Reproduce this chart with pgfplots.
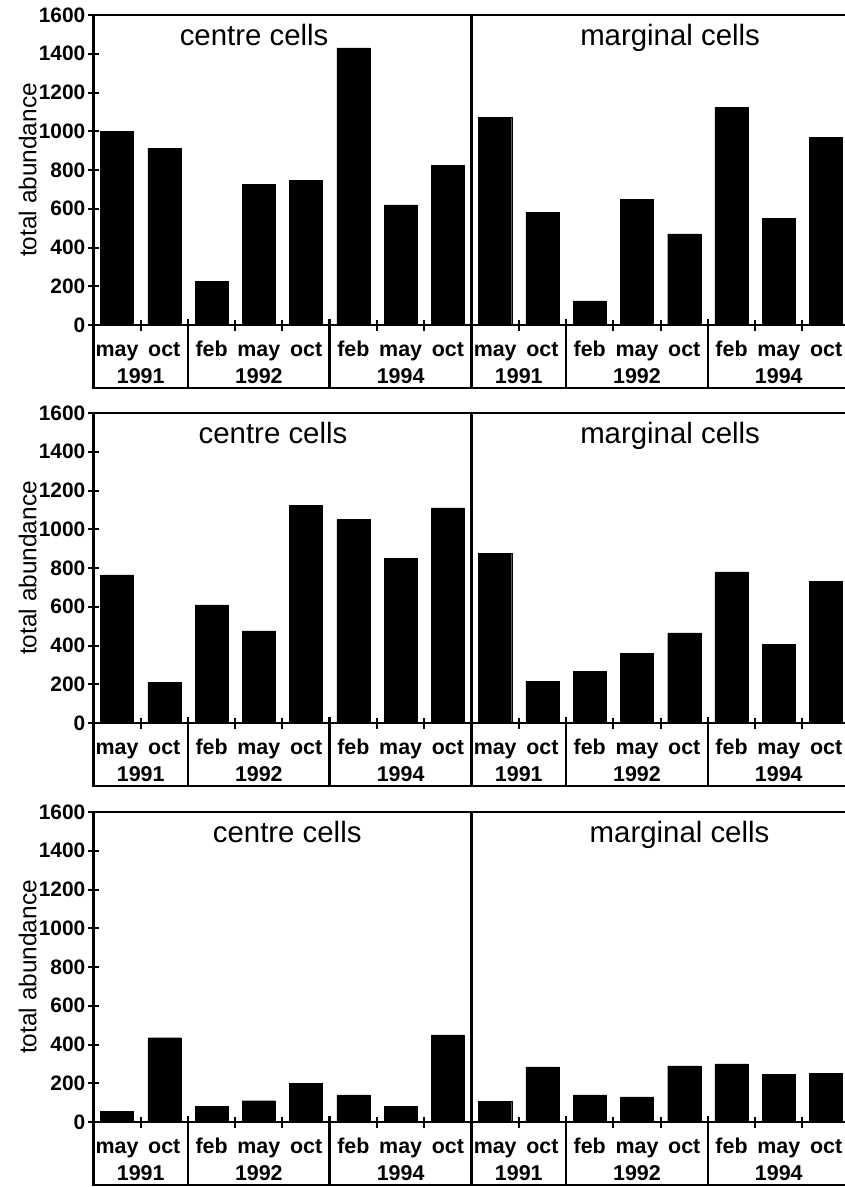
\documentclass[border=0pt]{standalone}
\usepackage{pgfplots}
\pgfplotsset{compat=1.18}
\usepackage{fontspec}
\setmainfont{Liberation Sans}
\newcommand{\tickfont}{\fontsize{21}{21}\selectfont\bfseries}
\newcommand{\catfont}{\fontsize{21.5}{21.5}\selectfont\bfseries}
\newcommand{\titlefont}{\fontsize{29.5}{29.5}\selectfont}
\newcommand{\labfont}{\fontsize{24.5}{24.5}\selectfont}
\pgfplotsset{
  panel/.style={
    scale only axis, width=756.3bp, height=310bp,
    anchor=south west,
    xmin=0, xmax=16, ymin=0, ymax=1600,
    clip=false,
    axis line style={line width=2.8bp},
    every tick/.style={black, line width=2bp},
    tick align=center,
    major tick length=11bp,
    ytick={0,200,...,1600}, ytick pos=left,
    yticklabel style={font=\tickfont, xshift=1bp},
    /pgf/number format/assume math mode=true,
    /pgf/number format/1000 sep={},
    xtick={1,3,4,6,7,9,11,12,14,15}, xticklabels={}, xtick pos=bottom,
  },
  bars/.style={ybar, bar width=0.7, fill=black, draw=black},
}
\newcommand{\panelframe}{%
  \draw[line width=2.8bp] (axis cs:0,0) -- ([yshift=-63bp]axis cs:0,0) -- ([yshift=-63bp]axis cs:16,0);
  \draw[line width=2.8bp] (axis cs:8,1600) -- ([yshift=-63bp]axis cs:8,0);
  \draw[line width=2.8bp] ([yshift=6bp]axis cs:2,0) -- ([yshift=-63bp]axis cs:2,0);
  \draw[line width=2.8bp] ([yshift=6bp]axis cs:5,0) -- ([yshift=-63bp]axis cs:5,0);
  \draw[line width=2.8bp] ([yshift=6bp]axis cs:10,0) -- ([yshift=-63bp]axis cs:10,0);
  \draw[line width=2.8bp] ([yshift=6bp]axis cs:13,0) -- ([yshift=-63bp]axis cs:13,0);
  \node[font=\catfont, anchor=base] at ([yshift=-31bp]axis cs:0.5,0) {may};
  \node[font=\catfont, anchor=base] at ([yshift=-31bp]axis cs:1.5,0) {oct};
  \node[font=\catfont, anchor=base] at ([yshift=-31bp]axis cs:2.5,0) {feb};
  \node[font=\catfont, anchor=base] at ([yshift=-31bp]axis cs:3.5,0) {may};
  \node[font=\catfont, anchor=base] at ([yshift=-31bp]axis cs:4.5,0) {oct};
  \node[font=\catfont, anchor=base] at ([yshift=-31bp]axis cs:5.5,0) {feb};
  \node[font=\catfont, anchor=base] at ([yshift=-31bp]axis cs:6.5,0) {may};
  \node[font=\catfont, anchor=base] at ([yshift=-31bp]axis cs:7.5,0) {oct};
  \node[font=\catfont, anchor=base] at ([yshift=-31bp]axis cs:8.5,0) {may};
  \node[font=\catfont, anchor=base] at ([yshift=-31bp]axis cs:9.5,0) {oct};
  \node[font=\catfont, anchor=base] at ([yshift=-31bp]axis cs:10.5,0) {feb};
  \node[font=\catfont, anchor=base] at ([yshift=-31bp]axis cs:11.5,0) {may};
  \node[font=\catfont, anchor=base] at ([yshift=-31bp]axis cs:12.5,0) {oct};
  \node[font=\catfont, anchor=base] at ([yshift=-31bp]axis cs:13.5,0) {feb};
  \node[font=\catfont, anchor=base] at ([yshift=-31bp]axis cs:14.5,0) {may};
  \node[font=\catfont, anchor=base] at ([yshift=-31bp]axis cs:15.5,0) {oct};
  \node[font=\catfont, anchor=base] at ([yshift=-58bp]axis cs:1,0) {1991};
  \node[font=\catfont, anchor=base] at ([yshift=-58bp]axis cs:3.5,0) {1992};
  \node[font=\catfont, anchor=base] at ([yshift=-58bp]axis cs:6.5,0) {1994};
  \node[font=\catfont, anchor=base] at ([yshift=-58bp]axis cs:9,0) {1991};
  \node[font=\catfont, anchor=base] at ([yshift=-58bp]axis cs:11.5,0) {1992};
  \node[font=\catfont, anchor=base] at ([yshift=-58bp]axis cs:14.5,0) {1994};
  \node[font=\labfont, rotate=90, anchor=base] at ([xshift=-57bp]rel axis cs:0,0.5) {total abundance};
}
\begin{document}
\begin{tikzpicture}
% ---------- panel 1 ----------
\begin{axis}[panel, at={(93.4bp,-325bp)}]
\addplot[bars] coordinates {(0.5,1000) (1.5,910) (2.5,225) (3.5,725) (4.5,745) (5.5,1430) (6.5,620) (7.5,825)};
\addplot[bars] coordinates {(8.5,1070) (9.5,580) (10.5,125) (11.5,650) (12.5,470) (13.5,1125) (14.5,550) (15.5,970)};
\panelframe
\node[font=\titlefont, anchor=base] at ([yshift=-30bp]axis cs:3.4,1600) {centre cells};
\node[font=\titlefont, anchor=base] at ([yshift=-30bp]axis cs:12.2,1600) {marginal cells};
\end{axis}
% ---------- panel 2 ----------
\begin{axis}[panel, at={(93.4bp,-723bp)}]
\addplot[bars] coordinates {(0.5,765) (1.5,210) (2.5,610) (3.5,475) (4.5,1125) (5.5,1050) (6.5,850) (7.5,1110)};
\addplot[bars] coordinates {(8.5,875) (9.5,215) (10.5,265) (11.5,360) (12.5,465) (13.5,780) (14.5,405) (15.5,730)};
\panelframe
\node[font=\titlefont, anchor=base] at ([yshift=-30bp]axis cs:3.8,1600) {centre cells};
\node[font=\titlefont, anchor=base] at ([yshift=-30bp]axis cs:12.2,1600) {marginal cells};
\end{axis}
% ---------- panel 3 ----------
\begin{axis}[panel, at={(93.4bp,-1122bp)}]
\addplot[bars] coordinates {(0.5,55) (1.5,435) (2.5,80) (3.5,110) (4.5,200) (5.5,140) (6.5,80) (7.5,450)};
\addplot[bars] coordinates {(8.5,105) (9.5,285) (10.5,140) (11.5,130) (12.5,290) (13.5,300) (14.5,245) (15.5,250)};
\panelframe
\node[font=\titlefont, anchor=base] at ([yshift=-30bp]axis cs:4.1,1600) {centre cells};
\node[font=\titlefont, anchor=base] at ([yshift=-30bp]axis cs:12.4,1600) {marginal cells};
\end{axis}
\pgfresetboundingbox
\useasboundingbox (0bp,0bp) rectangle (845bp,-1187bp);
\end{tikzpicture}
\end{document}
